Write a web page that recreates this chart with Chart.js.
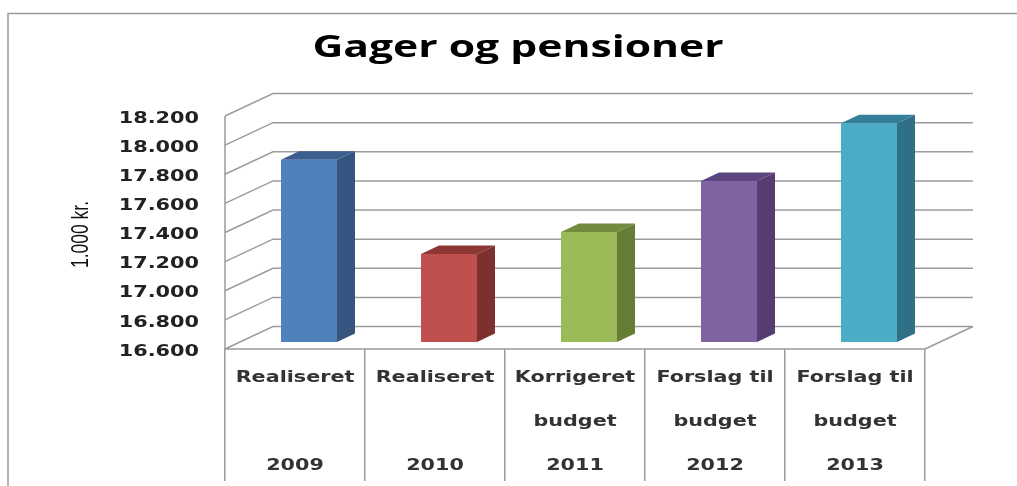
<!DOCTYPE html>
<html><head><meta charset="utf-8">
<style>html,body{margin:0;padding:0;background:#fff}canvas{display:block}</style>
<script src="https://cdn.jsdelivr.net/npm/chart.js@4/dist/chart.umd.min.js"></script>
</head><body><canvas id="c" width="1017" height="486"></canvas>
<script>
const categories = [
  ['Realiseret', '', '2009'],
  ['Realiseret', '', '2010'],
  ['Korrigeret', 'budget', '2011'],
  ['Forslag til', 'budget', '2012'],
  ['Forslag til', 'budget', '2013']
];
const values = [17851, 17205, 17356, 17706, 18102];
const faceColors = ['#4f81bd', '#c0504d', '#9bbb59', '#8064a2', '#4bacc6'];
const sideColors = ['#35557f', '#7d302d', '#667d35', '#553d72', '#2f7086'];
const topColors = ['#3a5f8e', '#8c3733', '#718c3c', '#5d4580', '#34809a'];
const titleText = 'Gager og pensioner';
const unitText = '1.000 kr.';
const LINE = '#9c9c9c';

// The reference is a horizontally stretched picture: widen each text about its own anchor.
function stretched(obj, method, k, dx, dy) {
  const orig = obj[method];
  obj[method] = function () {
    const ctx = this.ctx;
    const ft = CanvasRenderingContext2D.prototype.fillText;
    ctx.save();
    ctx.translate(dx || 0, dy || 0);
    ctx.fillText = function (s, x, y) {
      ctx.save();
      ctx.translate(x, y);
      ctx.scale(k, 1);
      ft.call(ctx, s, 0, 0);
      ctx.restore();
    };
    orig.apply(this, arguments);
    delete ctx.fillText;
    ctx.restore();
  };
}

const wall = {
  id: 'wall',
  afterLayout(chart) {
    if (chart.$wrapped) return;
    chart.$wrapped = true;
    stretched(chart.scales.y, 'drawLabels', 1.3, 0, 2.5);
    stretched(chart.scales.y, 'drawTitle', 0.73, 1, 2);
    stretched(chart.scales.x, 'drawLabels', 1.38, 0, 1);
    stretched(chart.titleBlock, 'draw', 1.375, 55.5, 1);
  },
  beforeDraw(chart) {
    const c = chart.ctx, a = chart.chartArea, y = chart.scales.y;
    c.save();
    c.fillStyle = '#fff';
    c.fillRect(0, 0, chart.width, chart.height);
    c.strokeStyle = '#9a9a9a';
    c.lineWidth = 1.5;
    c.beginPath();
    c.moveTo(8, chart.height); c.lineTo(8, 13.5); c.lineTo(chart.width, 13.5);
    c.stroke();
    c.strokeStyle = LINE;
    c.beginPath();
    y.ticks.forEach(t => {
      const py = y.getPixelForValue(t.value);
      c.moveTo(a.left, py);
      c.lineTo(a.left + 48, py - 22.5);
      c.lineTo(a.right + 48, py - 22.5);
    });
    c.moveTo(a.left, a.top); c.lineTo(a.left, a.bottom);
    c.moveTo(a.right, a.bottom); c.lineTo(a.right + 48, a.bottom - 22.5);
    c.moveTo(a.left, a.bottom); c.lineTo(a.right, a.bottom);
    c.stroke();
    c.restore();
  },
  beforeDatasetsDraw(chart) {
    const c = chart.ctx;
    c.save();
    c.translate(14, -7);
  },
  afterDatasetsDraw(chart) {
    const c = chart.ctx, bt = chart.chartArea.bottom;
    chart.getDatasetMeta(0).data.forEach((b, i) => {
      const l = b.x - b.width / 2, r = b.x + b.width / 2, t = b.y;
      const dx = 18, dy = 8.5;
      c.fillStyle = sideColors[i];
      c.beginPath();
      c.moveTo(r, t); c.lineTo(r + dx, t - dy); c.lineTo(r + dx, bt - dy); c.lineTo(r, bt);
      c.closePath(); c.fill();
      c.fillStyle = topColors[i];
      c.beginPath();
      c.moveTo(l, t); c.lineTo(l + dx, t - dy); c.lineTo(r + dx, t - dy); c.lineTo(r, t);
      c.closePath(); c.fill();
    });
    c.restore();
  }
};

new Chart(document.getElementById('c'), {
  type: 'bar',
  plugins: [wall],
  data: {
    labels: categories,
    datasets: [{
      data: values,
      backgroundColor: faceColors,
      barPercentage: 0.4,
      categoryPercentage: 1
    }]
  },
  options: {
    responsive: false,
    animation: false,
    layout: { padding: { left: 0, right: 92, top: 0, bottom: 0 } },
    plugins: {
      legend: { display: false },
      tooltip: { enabled: false },
      title: {
        display: true,
        text: titleText,
        color: '#000',
        font: { family: '"Open Sans"', size: 31, weight: 'bold', lineHeight: 1.2 },
        padding: { top: 28.4, bottom: 50.4 }
      }
    },
    scales: {
      x: {
        afterFit(s) { s.height = 137; },
        grid: { display: true, offset: true, drawOnChartArea: false, drawTicks: true, tickLength: 132, color: LINE, lineWidth: 1.5 },
        border: { display: false },
        ticks: {
          color: '#333',
          autoSkip: false, maxRotation: 0, minRotation: 0,
          padding: -126,
          font: { family: '"DejaVu Sans"', size: 15, weight: 'bold', lineHeight: 44 / 15 }
        }
      },
      y: {
        min: 16600, max: 18200,
        afterFit(s) { s.width = 225; },
        grid: { display: false, drawTicks: false },
        border: { display: false },
        title: {
          display: true,
          text: unitText,
          color: '#111',
          font: { family: '"Liberation Sans"', size: 24, lineHeight: 1.2 },
          padding: { top: 66, bottom: 0 }
        },
        ticks: {
          stepSize: 200,
          padding: 26,
          color: '#222',
          font: { family: '"DejaVu Sans"', size: 16, weight: 'bold' },
          callback: v => String(v).replace(/(\d)(\d{3})$/, '$1.$2')
        }
      }
    }
  }
});
</script></body></html>
